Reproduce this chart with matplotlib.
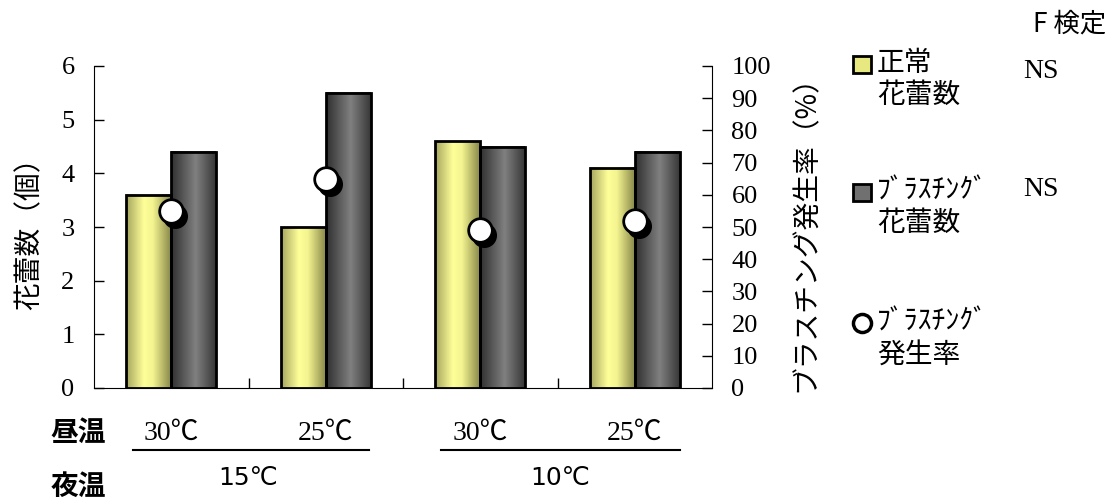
import numpy as np
import matplotlib.pyplot as plt
from matplotlib.transforms import offset_copy
from matplotlib.patches import Rectangle
from matplotlib.lines import Line2D
from matplotlib.colors import LinearSegmentedColormap

plt.rcParams['font.family'] = ['Noto Sans CJK JP', 'DejaVu Sans']

# data
day_temp = ['30℃', '25℃', '30℃', '25℃']
night_temp = ['15℃', '10℃']
normal_buds = [3.6, 3.0, 4.6, 4.1]
blasting_buds = [4.4, 5.5, 4.5, 4.4]
blasting_rate = [55, 65, 49, 52]
f_test = ['NS', 'NS']

serif = ['Liberation Serif', 'Noto Sans CJK JP']

fig = plt.figure(figsize=(11.15, 5), dpi=100)
ax = fig.add_axes([94/1115, 112/500, 618/1115, 322/500])
ax2 = ax.twinx()

x = np.arange(len(normal_buds))
w = 0.29

yellow_cm = LinearSegmentedColormap.from_list(
    'y', [(0, '#a6a660'), (0.4, '#ffff99'), (0.6, '#f4f490'), (1, '#8a8a4c')])
gray_cm = LinearSegmentedColormap.from_list(
    'g', [(0, '#303030'), (0.55, '#808080'), (1, '#383838')])
grad = np.linspace(0, 1, 64).reshape(1, -1)

b1 = ax.bar(x - w/2, normal_buds, w, facecolor='none', edgecolor='black',
            linewidth=2, zorder=3)
b2 = ax.bar(x + w/2, blasting_buds, w, facecolor='none', edgecolor='black',
            linewidth=2, zorder=3)
for bars, cm in [(b1, yellow_cm), (b2, gray_cm)]:
    for r in bars:
        ax.imshow(grad, cmap=cm, aspect='auto', zorder=2,
                  extent=(r.get_x(), r.get_x() + r.get_width(), 0, r.get_height()))

ax.set_xlim(-0.5, 3.5)
ax.set_ylim(0, 6)
ax.set_yticks(range(7))
ax2.set_ylim(0, 100)
ax2.set_yticks(range(0, 101, 10))

# circles with shadow
shadow = offset_copy(ax2.transData, fig=fig, x=4, y=-5, units='dots')
ax2.plot(x, blasting_rate, 'o', ms=17, color='black', transform=shadow,
         linestyle='none', zorder=4)
ax2.plot(x, blasting_rate, 'o', ms=17, mfc='white', mec='black', mew=2,
         linestyle='none', zorder=5)

for a in (ax, ax2):
    a.spines['top'].set_visible(False)
    a.tick_params(direction='in', length=7, width=1, labelsize=19)
    for t in a.get_yticklabels():
        t.set_family(serif)
ax.spines['right'].set_visible(False)
ax2.spines['left'].set_visible(False)
ax2.spines['bottom'].set_visible(False)

ax.set_xticks([0.5, 1.5, 2.5])
ax.set_xticklabels([])
ax.set_xticks(x, minor=True)
ax.set_xticklabels(day_temp, minor=True, family=serif, fontsize=20)
ax.tick_params(axis='x', which='minor', length=0, pad=24)
ax.tick_params(axis='y', pad=14)
ax2.tick_params(axis='y', pad=14)

ax.set_ylabel('花蕾数（個）', fontsize=20, labelpad=12)
ax2.set_ylabel('ブラスチング発生率（%）', fontsize=20, rotation=90, labelpad=14)

# bottom labels
fig.text(78/1115, 1 - 433/500, '昼温', fontsize=20, weight='bold',
         ha='center', va='center')
fig.text(78/1115, 1 - 487/500, '夜温', fontsize=20, weight='bold',
         ha='center', va='center')
fig.text(248/1115, 1 - 478/500, night_temp[0], fontsize=18, ha='center',
         va='center', family=['DejaVu Sans'])
fig.text(560/1115, 1 - 478/500, night_temp[1], fontsize=18, ha='center',
         va='center', family=['DejaVu Sans'])
fig.add_artist(Line2D([133/1115, 369/1115], [1 - 450/500] * 2, color='black', lw=1.5))
fig.add_artist(Line2D([441/1115, 680/1115], [1 - 450/500] * 2, color='black', lw=1.5))

# legend
def px(xp, yp):
    return xp / 1115, 1 - yp / 500

fig.add_artist(Rectangle(px(853, 73), 18/1115, 17/500, facecolor='#e8e880',
                         edgecolor='black', lw=2))
fig.add_artist(Rectangle(px(853, 201), 18/1115, 17/500, facecolor='#707070',
                         edgecolor='black', lw=2))
fig.add_artist(Line2D([862/1115], [1 - 323/500], marker='o', ms=13,
                      mfc='white', mec='black', mew=2.5))
legend_text = ['正常\n花蕾数', 'ﾌﾞﾗｽﾁﾝｸﾞ\n花蕾数', 'ﾌﾞﾗｽﾁﾝｸﾞ\n発生率']
legend_y = [48, 176, 307]
for s, yp in zip(legend_text, legend_y):
    fig.text(*px(877, yp), s, fontsize=20, ha='left', va='top', linespacing=1.1)

fig.text(*px(1070, 24), 'F 検定', fontsize=19, ha='center', va='center')
for s, yp in zip(f_test, [72, 189]):
    fig.text(*px(1023, yp), s, fontsize=20, ha='left', va='center', family=serif)

fig.savefig('out.png', dpi=100)
